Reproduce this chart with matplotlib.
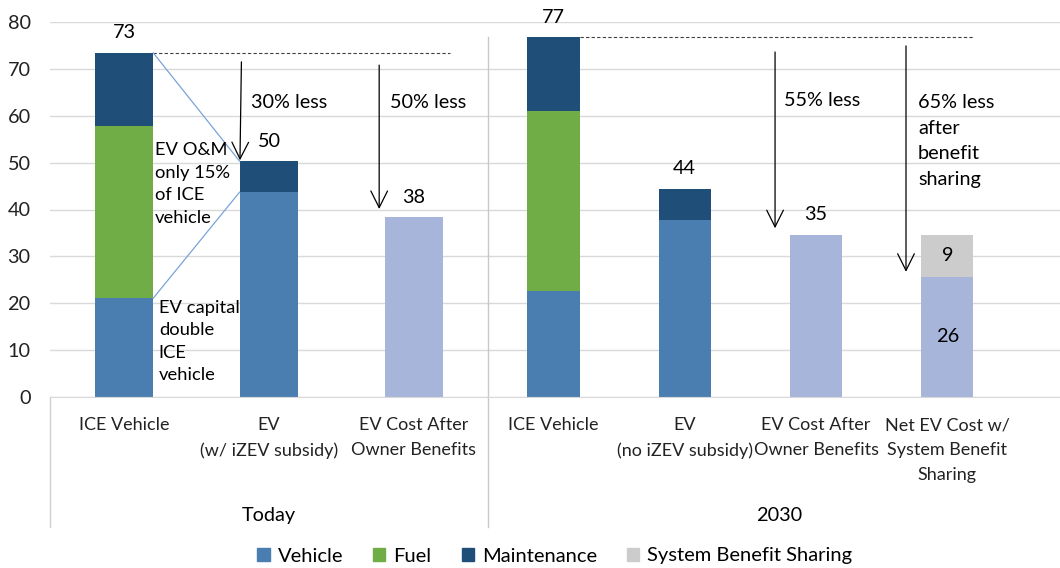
import numpy as np
import matplotlib
matplotlib.use("Agg")
import matplotlib.pyplot as plt
from matplotlib.patches import Patch

plt.rcParams['font.family'] = ['Lato', 'DejaVu Sans']
plt.rcParams['font.size'] = 14.3

# data
categories = ["ICE Vehicle", "EV\n(w/ iZEV subsidy)", "EV Cost After\nOwner Benefits",
              "ICE Vehicle", "EV\n(no iZEV subsidy)", "EV Cost After\nOwner Benefits",
              "Net EV Cost w/\nSystem Benefit\nSharing"]
groups = ["Today", "2030"]
vehicle = [21.1, 43.7, 0, 22.6, 37.8, 0, 0]
fuel = [36.7, 0, 0, 38.5, 0, 0, 0]
maintenance = [15.6, 6.6, 0, 15.6, 6.6, 0, 0]
after_benefits = [0, 0, 38.3, 0, 0, 34.6, 25.6]
benefit_sharing = [0, 0, 0, 0, 0, 0, 9.0]

c_vehicle = "#4a7eb0"
c_fuel = "#70ad47"
c_maint = "#1f4e79"
c_light = "#a7b5da"
c_gray = "#cccccc"

# layout: two groups with slightly different spacing
x_today = np.arange(3) * 1.0
x_2030 = 2.51 + 0.905 * (0.5 + np.arange(4))
x = np.concatenate([x_today, x_2030])
width = np.array([0.405] * 3 + [0.36] * 4)

vehicle = np.array(vehicle)
fuel = np.array(fuel)
maintenance = np.array(maintenance)
after_benefits = np.array(after_benefits)
benefit_sharing = np.array(benefit_sharing)

fig = plt.figure(figsize=(10.6, 5.68), dpi=100)
ax = fig.add_axes([50 / 1060, 171 / 568, 1010 / 1060, 375 / 568])

ax.bar(x, vehicle, width, color=c_vehicle, zorder=2)
ax.bar(x, fuel, width, bottom=vehicle, color=c_fuel, zorder=2)
ax.bar(x, maintenance, width, bottom=vehicle + fuel, color=c_maint, zorder=2)
ax.bar(x, after_benefits, width, color=c_light, zorder=2)
ax.bar(x, benefit_sharing, width, bottom=after_benefits, color=c_gray, zorder=2)

totals = vehicle + fuel + maintenance + after_benefits + benefit_sharing

# total labels above bars (segment labels for the last one)
for i in range(len(x)):
    if benefit_sharing[i] > 0:
        ax.text(x[i], after_benefits[i] / 2, f"{after_benefits[i]:.0f}", ha='center', va='center')
        ax.text(x[i], after_benefits[i] + benefit_sharing[i] / 2, f"{benefit_sharing[i]:.0f}",
                ha='center', va='center')
    else:
        ax.annotate(f"{totals[i]:.0f}", (x[i], totals[i]), xytext=(0, 14.5),
                    textcoords='offset points', ha='center', va='center')

ax.set_xlim(-0.51, 6.455)
ax.set_ylim(0, 80)
ax.set_yticks(np.arange(0, 81, 10))
ax.set_xticks(x)
ax.set_xticklabels(categories, fontsize=13.0)
for t in ax.get_xticklabels():
    t.set_linespacing(1.7)
ax.tick_params(axis='both', length=0, colors='#222222')
ax.tick_params(axis='x', pad=14.5)
ax.tick_params(axis='y', pad=14)
ax.yaxis.grid(True, color='#d9d9d9', lw=1)
ax.set_axisbelow(True)
for s in ['top', 'right', 'left']:
    ax.spines[s].set_visible(False)
ax.spines['bottom'].set_color('#d9d9d9')

# frame lines of the category axis
ax.plot([0, 0], [0, -0.347], transform=ax.transAxes, clip_on=False, color='#d0d0d0', lw=1)
divider = 2.51
ax.plot([divider, divider], [-0.347, 0.96], transform=ax.get_xaxis_transform(), clip_on=False,
        color='#c8c8c8', lw=1)

ax.text(1.0, -0.315, groups[0], transform=ax.get_xaxis_transform(), ha='center', va='center')
ax.text(4.517, -0.315, groups[1], transform=ax.get_xaxis_transform(), ha='center', va='center')

# dashed reference lines at ICE totals
ax.plot([x[0] + width[0] / 2, 2.25], [totals[0], totals[0]], ls=(0, (3, 2)), lw=0.8, color='#404040')
ax.plot([x[3] + width[3] / 2, x[6] + width[6] / 2], [totals[3], totals[3]], ls=(0, (3, 2)),
        lw=0.8, color='#404040')

# blue connector lines
ax.plot([x[0] + width[0] / 2, x[1] - width[1] / 2], [totals[0], totals[1]], color='#7aa3d9', lw=0.9)
ax.plot([x[0] + width[0] / 2, x[1] - width[1] / 2], [vehicle[0], vehicle[1]], color='#7aa3d9', lw=0.9)

# arrows
arrow = dict(arrowstyle='->, head_length=0.6, head_width=0.3', color='black', lw=0.9,
             mutation_scale=20, shrinkA=0, shrinkB=0)
ax.annotate("", xy=(0.80, 50.5), xytext=(0.81, 71.5), arrowprops=arrow)
ax.annotate("", xy=(1.76, 40.1), xytext=(1.76, 70.8), arrowprops=arrow)
ax.annotate("", xy=(4.49, 36.0), xytext=(4.49, 73.6), arrowprops=arrow)
ax.annotate("", xy=(5.393, 26.7), xytext=(5.393, 74.9), arrowprops=arrow)

ax.text(0.876, 62.9, "30% less", va='center', ha='left')
ax.text(1.834, 62.9, "50% less", va='center', ha='left')
ax.text(4.55, 63.3, "55% less", va='center', ha='left')
ax.text(5.476, 54.6, "65% less\nafter\nbenefit\nsharing", va='center', ha='left', linespacing=1.6)

ax.text(0.214, 45.4, "EV O&M\nonly 15%\nof ICE\nvehicle", va='center', ha='left',
        fontsize=13.2, linespacing=1.5)
ax.text(0.24, 11.8, "EV capital\ndouble\nICE\nvehicle", va='center', ha='left',
        fontsize=13.2, linespacing=1.5)

handles = [Patch(color=c_vehicle, label="Vehicle"), Patch(color=c_fuel, label="Fuel"),
           Patch(color=c_maint, label="Maintenance"), Patch(color=c_gray, label="System Benefit Sharing")]
fig.legend(handles=handles, loc='center', bbox_to_anchor=(555 / 1060, 1 - 556 / 568), ncol=4,
           frameon=False, fontsize=14.5, handlelength=0.6, handleheight=0.6, handletextpad=0.4,
           columnspacing=1.5)

fig.savefig("out.png", dpi=100)
